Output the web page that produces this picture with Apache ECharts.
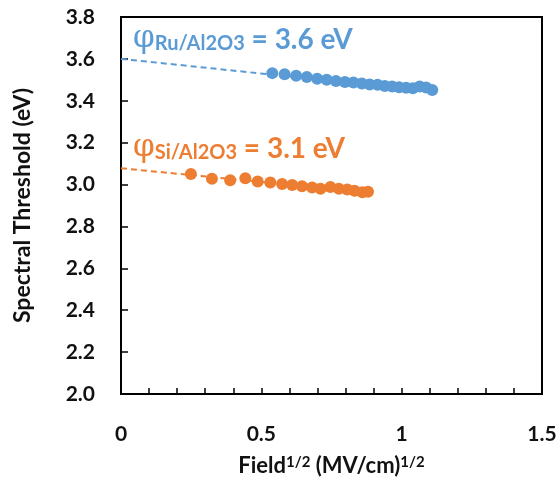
<!DOCTYPE html>
<html>
<head>
    <meta charset="utf-8">
    <title>Spectral Threshold</title>
    <style>
        html, body { margin: 0; padding: 0; background: #fff; }
        #chart { width: 560px; height: 486px; }
    </style>
</head>
<body>
<div id="chart"></div>
<script src="https://cdn.jsdelivr.net/npm/echarts@6/dist/echarts.min.js"></script>
<script>
    // data
    var ruX = [0.539, 0.583, 0.624, 0.662, 0.699, 0.733, 0.766, 0.798, 0.828, 0.858,
               0.886, 0.914, 0.940, 0.966, 0.991, 1.016, 1.040, 1.064, 1.087, 1.109];
    var ruY = [3.532, 3.527, 3.520, 3.513, 3.505, 3.500, 3.494, 3.490, 3.487, 3.482,
               3.478, 3.476, 3.470, 3.468, 3.465, 3.462, 3.460, 3.468, 3.463, 3.452];
    var siX = [0.249, 0.324, 0.389, 0.443, 0.487, 0.532, 0.574, 0.610, 0.645, 0.681,
               0.711, 0.746, 0.776, 0.806, 0.832, 0.860, 0.880];
    var siY = [3.050, 3.028, 3.020, 3.030, 3.015, 3.010, 3.003, 2.998, 2.992, 2.986,
               2.980, 2.988, 2.980, 2.976, 2.970, 2.963, 2.966];
    // fitted lines (end points)
    var ruFitX = [0, 1.109];
    var ruFitY = [3.600, 3.445];
    var siFitX = [0, 0.880];
    var siFitY = [3.078, 2.963];

    var blue = '#5B9BD5';
    var orange = '#ED7D31';
    var font = 'Lato, "Open Sans", sans-serif';

    function pairs(xs, ys) {
        var out = [];
        for (var i = 0; i < xs.length; i++) out.push([xs[i], ys[i]]);
        return out;
    }

    function note(top, sub, val, color) {
        return {
            type: 'text', left: 133, top: top,
            style: {
                text: '{p|φ}{s|' + sub + '}{t| = ' + val + ' eV}',
                rich: {
                    p: { fontSize: 31, fontFamily: '"DejaVu Serif", serif', fill: color, verticalAlign: 'bottom' },
                    s: { fontSize: 20, fontWeight: 'bold', fontFamily: font, fill: color, verticalAlign: 'bottom' },
                    t: { fontSize: 28, fontWeight: 'bold', fontFamily: font, fill: color, verticalAlign: 'bottom' }
                }
            }
        };
    }

    var chart = echarts.init(document.getElementById('chart'));
    var option = {
        animation: false,
        grid: {
            left: 121, right: 18, top: 17, bottom: 92,
            show: true, borderColor: '#000', borderWidth: 2
        },
        xAxis: {
            type: 'value', min: 0, max: 1.5, interval: 0.5,
            axisLine: { show: true, onZero: false, lineStyle: { color: '#000', width: 2 } },
            axisTick: { show: true, inside: true, length: 6, lineStyle: { color: '#000', width: 1.5 } },
            minorTick: { show: true, splitNumber: 5, length: 6, lineStyle: { color: '#000', width: 1.5 } },
            splitLine: { show: false },
            axisLabel: { color: '#111', fontSize: 21, fontWeight: 'bold', fontFamily: font, margin: 30 },
            name: '{b|Field}{s|1/2}{b| (MV/cm)}{s|1/2}',
            nameLocation: 'middle', nameGap: 61,
            nameTextStyle: {
                rich: {
                    b: { fontSize: 22, fontWeight: 'bold', fontFamily: font, color: '#111', verticalAlign: 'bottom' },
                    s: { fontSize: 15, fontWeight: 'bold', fontFamily: font, color: '#111', verticalAlign: 'top' }
                }
            }
        },
        yAxis: {
            type: 'value', min: 2, max: 3.8, interval: 0.2,
            axisLine: { show: true, lineStyle: { color: '#000', width: 2 } },
            axisTick: { show: true, inside: true, length: 7, lineStyle: { color: '#000', width: 1.5 } },
            splitLine: { show: false },
            axisLabel: {
                color: '#111', fontSize: 21, fontWeight: 'bold', fontFamily: font, margin: 26,
                formatter: function (v) { return v.toFixed(1); }
            },
            name: 'Spectral Threshold (eV)',
            nameLocation: 'middle', nameGap: 87,
            nameTextStyle: { color: '#111', fontSize: 23, fontWeight: 'bold', fontFamily: font }
        },
        graphic: [
            note(23, 'Ru/Al2O3', '3.6', blue),
            note(132, 'Si/Al2O3', '3.1', orange)
        ],
        series: [
            {
                type: 'line', data: pairs(ruFitX, ruFitY), symbol: 'none', silent: true,
                lineStyle: { color: blue, width: 2, type: [6, 4] }, z: 1
            },
            {
                type: 'line', data: pairs(siFitX, siFitY), symbol: 'none', silent: true,
                lineStyle: { color: orange, width: 2, type: [6, 4] }, z: 1
            },
            {
                type: 'scatter', data: pairs(ruX, ruY), symbol: 'circle', symbolSize: 12,
                itemStyle: { color: blue, opacity: 1 }, z: 3
            },
            {
                type: 'scatter', data: pairs(siX, siY), symbol: 'circle', symbolSize: 12,
                itemStyle: { color: orange, opacity: 1 }, z: 3
            }
        ]
    };
    chart.setOption(option);
</script>
</body>
</html>
